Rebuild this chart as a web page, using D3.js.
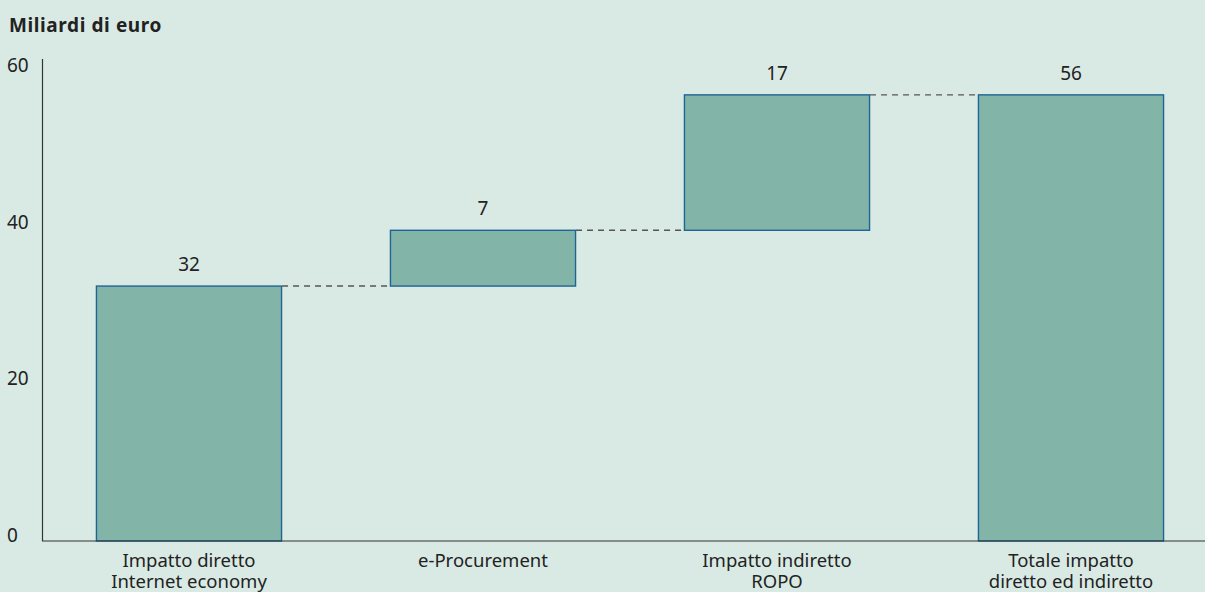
<!DOCTYPE html>
<html>
<head>
<meta charset="utf-8">
<script src="https://cdn.jsdelivr.net/npm/d3@7"></script>
<style>
  body { margin: 0; background: #d9eae4; }
  svg { display: block; font-family: "Noto Sans", "Open Sans", sans-serif; }
  .tick-label { font-size: 19px; fill: #222; }
  .cat-label { font-size: 18.5px; fill: #222; }
  .val-label { font-size: 19px; fill: #222; }
</style>
</head>
<body>
<div id="chart"></div>
<script>
// Waterfall data
var categories = [["Impatto diretto", "Internet economy"], ["e-Procurement"], ["Impatto indiretto", "ROPO"], ["Totale impatto", "diretto ed indiretto"]];
var values = [32, 7, 17, 56];
var isTotal = [false, false, false, true];
var yTicks = [0, 20, 40, 60];

var width = 1205, height = 592;

var svg = d3.select("#chart").append("svg")
    .attr("width", width)
    .attr("height", height);

svg.append("rect")
    .attr("width", width)
    .attr("height", height)
    .attr("fill", "#d9eae4");

// build start/end for each step
var running = 0;
var bars = values.map(function(v, i) {
  var b;
  if (isTotal[i]) { b = { start: 0, end: v }; }
  else { b = { start: running, end: running + v }; running += v; }
  b.cat = categories[i];
  b.value = v;
  b.key = i;
  return b;
});

var x = d3.scaleBand()
    .domain(d3.range(values.length))
    .range([42, 1218])
    .paddingInner(0.367)
    .paddingOuter(0.367 / 2);

var y = d3.scaleLinear()
    .domain([0, 60])
    .range([541, 63]);

// title
svg.append("text")
    .attr("x", 9)
    .attr("y", 32)
    .style("font-size", "19px")
    .style("font-weight", "bold")
    .style("letter-spacing", "0.6px")
    .style("fill", "#222")
    .text("Miliardi di euro");

// y axis line + labels
svg.append("line")
    .attr("x1", 42.5).attr("x2", 42.5)
    .attr("y1", 59).attr("y2", 541)
    .attr("stroke", "#333").attr("stroke-width", 1.2);

// labels sit a bit lower near the top, like the original
svg.selectAll(".tick-label")
    .data(yTicks)
  .enter().append("text")
    .attr("class", "tick-label")
    .attr("x", 7)
    .attr("y", function(d) { return y(d) + 1 + d * 0.13; })
    .text(function(d) { return d; });

// connectors
svg.selectAll(".conn")
    .data(bars.slice(0, -1))
  .enter().append("line")
    .attr("class", "conn")
    .attr("x1", function(d) { return x(d.key) + x.bandwidth(); })
    .attr("x2", function(d) { return x(d.key + 1); })
    .attr("y1", function(d) { return y(d.end); })
    .attr("y2", function(d) { return y(d.end); })
    .attr("stroke", "#555")
    .attr("stroke-width", 1.4)
    .attr("stroke-dasharray", "6,5");

// bars
svg.selectAll(".bar")
    .data(bars)
  .enter().append("rect")
    .attr("class", "bar")
    .attr("x", function(d) { return x(d.key) + 0.5; })
    .attr("y", function(d) { return y(d.end); })
    .attr("width", x.bandwidth() - 1)
    .attr("height", function(d) { return y(d.start) - y(d.end); })
    .attr("fill", "#82b5a8")
    .attr("stroke", "#1f6496")
    .attr("stroke-width", 1.4);

// x axis baseline
svg.append("line")
    .attr("x1", 42).attr("x2", width)
    .attr("y1", 541).attr("y2", 541)
    .attr("stroke", "#333").attr("stroke-width", 1.2);

// value labels
svg.selectAll(".val-label")
    .data(bars)
  .enter().append("text")
    .attr("class", "val-label")
    .attr("x", function(d) { return x(d.key) + x.bandwidth() / 2; })
    .attr("y", function(d) { return y(d.end) - 15; })
    .attr("text-anchor", "middle")
    .text(function(d) { return d.value; });

// category labels
var cl = svg.selectAll(".cat-label")
    .data(bars)
  .enter().append("text")
    .attr("class", "cat-label")
    .attr("text-anchor", "middle")
    .attr("x", function(d) { return x(d.key) + x.bandwidth() / 2; })
    .attr("y", 567);

cl.selectAll("tspan")
    .data(function(d) { return d.cat.map(function(t) { return { t: t, x: x(d.key) + x.bandwidth() / 2 }; }); })
  .enter().append("tspan")
    .attr("x", function(d) { return d.x; })
    .attr("dy", function(d, i) { return i == 0 ? 0 : 21; })
    .text(function(d) { return d.t; });
</script>
</body>
</html>
